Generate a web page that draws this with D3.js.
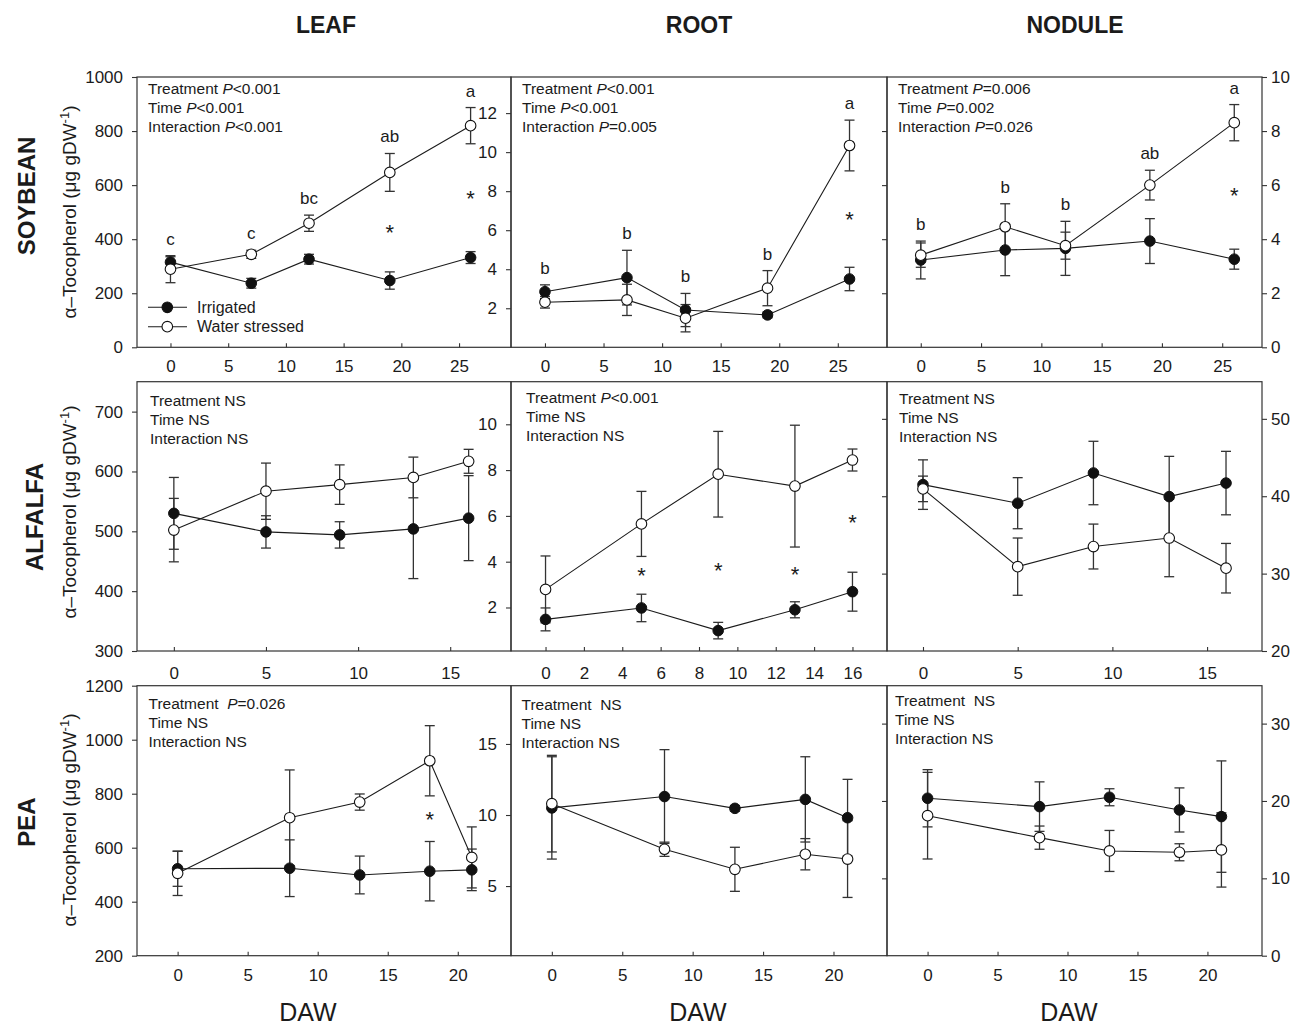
<!DOCTYPE html>
<html>
<head>
<meta charset="utf-8">
<script src="https://cdn.jsdelivr.net/npm/d3@7"></script>
<style>
  body { margin: 0; background: #fff; }
  svg text { font-family: "Liberation Sans", Arial, Helvetica, sans-serif; fill: #1b1b1b; white-space: pre; }
</style>
</head>
<body>
<svg id="chart" width="1301" height="1030"></svg>
<script>
// ---- Sampling days (days after withholding water) ----
const soyDays = [0, 7, 12, 19, 26];
const alfDays = [0, 5, 9, 13, 16];
const peaDays = [0, 8, 13, 18, 21];

// ---- Soybean ----
const soyLeafIrr = [315, 237, 326, 247, 332];
const soyLeafIrrErr = [20, 18, 18, 32, 22];
const soyLeafWs = [289, 344, 459, 647, 820];
const soyLeafWsErr = [50, 15, 30, 70, 67];

const soyRootIrr = [2.85, 3.57, 1.91, 1.66, 3.5];
const soyRootIrrErr = [0.35, 1.4, 0.85, 0.15, 0.6];
const soyRootWs = [2.31, 2.43, 1.49, 3.03, 10.34];
const soyRootWsErr = [0.3, 0.8, 0.7, 0.9, 1.3];

const soyNodIrr = [3.23, 3.6, 3.66, 3.93, 3.26];
const soyNodIrrErr = [0.7, 0.95, 1.0, 0.83, 0.37];
const soyNodWs = [3.41, 4.46, 3.76, 6.0, 8.31];
const soyNodWsErr = [0.45, 0.85, 0.5, 0.55, 0.67];

// ---- Alfalfa ----
const alfLeafIrr = [530, 499, 494, 504, 522];
const alfLeafIrrErr = [60, 27, 22, 83, 71];
const alfLeafWs = [502, 567, 578, 590, 617];
const alfLeafWsErr = [53, 47, 33, 34, 20];

const alfRootIrr = [1.48, 1.98, 0.99, 1.9, 2.69];
const alfRootIrrErr = [0.5, 0.6, 0.36, 0.35, 0.85];
const alfRootWs = [2.79, 5.65, 7.82, 7.3, 8.44];
const alfRootWsErr = [1.46, 1.42, 1.87, 2.66, 0.48];

const alfNodIrr = [41.5, 39.1, 43.0, 39.95, 41.7];
const alfNodIrrErr = [3.2, 3.3, 4.1, 5.2, 4.1];
const alfNodWs = [40.95, 30.9, 33.5, 34.6, 30.7];
const alfNodWsErr = [1.65, 3.7, 2.9, 5.0, 3.2];

// ---- Pea ----
const peaLeafIrr = [522, 524, 499, 513, 518];
const peaLeafIrrErr = [65, 105, 70, 110, 77];
const peaLeafWs = [505, 711, 769, 922, 564];
const peaLeafWsErr = [82, 177, 30, 130, 113];

const peaRootIrr = [10.5, 11.3, 10.47, 11.1, 9.81];
const peaRootIrrErr = [3.6, 3.3, 0.2, 3.0, 2.7];
const peaRootWs = [10.8, 7.59, 6.18, 7.24, 6.9];
const peaRootWsErr = [3.4, 0.5, 1.55, 1.1, 2.7];

const peaNodIrr = [20.35, 19.27, 20.48, 18.84, 17.98];
const peaNodIrrErr = [3.7, 3.2, 1.1, 2.85, 7.2];
const peaNodWs = [18.1, 15.26, 13.54, 13.37, 13.67];
const peaNodWsErr = [5.6, 1.5, 2.65, 1.1, 4.8];

// ---- Significance letters (water stressed) and asterisks ----
const soyLeafLetters = ["c", "c", "bc", "ab", "a"];
const soyRootLetters = ["b", "b", "b", "b", "a"];
const soyNodLetters = ["b", "b", "b", "ab", "a"];
const soyLeafStars = [19, 26];
const soyRootStars = [26];
const soyNodStars = [26];
const alfRootStars = [5, 9, 13, 16];
const peaLeafStars = [18];

// ---- ANOVA summaries ({P} is set in italics) ----
const soyLeafStats = ["Treatment {P}<0.001", "Time {P}<0.001", "Interaction {P}<0.001"];
const soyRootStats = ["Treatment {P}<0.001", "Time {P}<0.001", "Interaction {P}=0.005"];
const soyNodStats = ["Treatment {P}=0.006", "Time {P}=0.002", "Interaction {P}=0.026"];
const alfLeafStats = ["Treatment NS", "Time NS", "Interaction NS"];
const alfRootStats = ["Treatment {P}<0.001", "Time NS", "Interaction NS"];
const alfNodStats = ["Treatment NS", "Time NS", "Interaction NS"];
const peaLeafStats = ["Treatment  {P}=0.026", "Time NS", "Interaction NS"];
const peaRootStats = ["Treatment  NS", "Time NS", "Interaction NS"];
const peaNodStats = ["Treatment  NS", "Time NS", "Interaction NS"];

// ---- Tick values ----
const soyTicksX = [0, 5, 10, 15, 20, 25];
const alfTicksX = [0, 5, 10, 15];
const alfRootTicksX = [0, 2, 4, 6, 8, 10, 12, 14, 16];
const peaTicksX = [0, 5, 10, 15, 20];
const soyLeafTicksY = [0, 200, 400, 600, 800, 1000];
const soyRootTicksY = [2, 4, 6, 8, 10, 12];
const soyNodTicksY = [0, 2, 4, 6, 8, 10];
const alfLeafTicksY = [300, 400, 500, 600, 700];
const alfRootTicksY = [2, 4, 6, 8, 10];
const alfNodTicksY = [20, 30, 40, 50];
const peaLeafTicksY = [200, 400, 600, 800, 1000, 1200];
const peaRootTicksY = [5, 10, 15];
const peaNodTicksY = [0, 10, 20, 30];

const organNames = ["LEAF", "ROOT", "NODULE"];
const cropNames = ["SOYBEAN", "ALFALFA", "PEA"];
const seriesNames = ["Irrigated", "Water stressed"];

// ---- Layout ----
const svg = d3.select("#chart");
const colEdges = [137, 511, 887, 1262];
const rowBands = [[77, 347.3], [381.7, 651], [685.7, 955.7]];
const xLabelPad = [13, 15.5, 13.5];
const ink = "#1b1b1b", axisInk = "#333";

const panels = [
  { r: 0, c: 0, days: soyDays, irr: soyLeafIrr, irrErr: soyLeafIrrErr, ws: soyLeafWs, wsErr: soyLeafWsErr,
    letters: soyLeafLetters, stars: soyLeafStars, stats: soyLeafStats, xTicks: soyTicksX, yTicks: soyLeafTicksY,
    xDom: [-2.9, 29.5], yDom: [0, 1000], statAt: [11, 17] },
  { r: 0, c: 1, days: soyDays, irr: soyRootIrr, irrErr: soyRootIrrErr, ws: soyRootWs, wsErr: soyRootWsErr,
    letters: soyRootLetters, stars: soyRootStars, stats: soyRootStats, xTicks: soyTicksX, yTicks: soyRootTicksY,
    xDom: [-2.9, 29.2], yDom: [0, 13.85], statAt: [11, 17] },
  { r: 0, c: 2, days: soyDays, irr: soyNodIrr, irrErr: soyNodIrrErr, ws: soyNodWs, wsErr: soyNodWsErr,
    letters: soyNodLetters, stars: soyNodStars, stats: soyNodStats, xTicks: soyTicksX, yTicks: soyNodTicksY,
    xDom: [-2.8, 28.3], yDom: [0, 10], statAt: [11, 17] },
  { r: 1, c: 0, days: alfDays, irr: alfLeafIrr, irrErr: alfLeafIrrErr, ws: alfLeafWs, wsErr: alfLeafWsErr,
    letters: null, stars: [], stats: alfLeafStats, xTicks: alfTicksX, yTicks: alfLeafTicksY,
    xDom: [-2, 18.3], yDom: [300, 750], statAt: [13, 24] },
  { r: 1, c: 1, days: alfDays, irr: alfRootIrr, irrErr: alfRootIrrErr, ws: alfRootWs, wsErr: alfRootWsErr,
    letters: null, stars: alfRootStars, stats: alfRootStats, xTicks: alfRootTicksX, yTicks: alfRootTicksY,
    xDom: [-1.8, 17.8], yDom: [0.1, 11.86], statAt: [15, 21] },
  { r: 1, c: 2, days: alfDays, irr: alfNodIrr, irrErr: alfNodIrrErr, ws: alfNodWs, wsErr: alfNodWsErr,
    letters: null, stars: [], stats: alfNodStats, xTicks: alfTicksX, yTicks: alfNodTicksY,
    xDom: [-1.9, 17.9], yDom: [20, 54.8], statAt: [12, 22] },
  { r: 2, c: 0, days: peaDays, irr: peaLeafIrr, irrErr: peaLeafIrrErr, ws: peaLeafWs, wsErr: peaLeafWsErr,
    letters: null, stars: peaLeafStars, stats: peaLeafStats, xTicks: peaTicksX, yTicks: peaLeafTicksY,
    xDom: [-2.9, 23.8], yDom: [200, 1200], statAt: [11.5, 23.5] },
  { r: 2, c: 1, days: peaDays, irr: peaRootIrr, irrErr: peaRootIrrErr, ws: peaRootWs, wsErr: peaRootWsErr,
    letters: null, stars: [], stats: peaRootStats, xTicks: peaTicksX, yTicks: peaRootTicksY,
    xDom: [-2.9, 23.8], yDom: [0.1, 19.1], statAt: [10.5, 24] },
  { r: 2, c: 2, days: peaDays, irr: peaNodIrr, irrErr: peaNodIrrErr, ws: peaNodWs, wsErr: peaNodWsErr,
    letters: null, stars: [], stats: peaNodStats, xTicks: peaTicksX, yTicks: peaNodTicksY,
    xDom: [-2.9, 23.9], yDom: [0, 34.9], statAt: [8, 20] }
];

function styleAxis(g) {
  g.select(".domain").remove();
  g.selectAll(".tick line").attr("stroke", axisInk).attr("stroke-width", 1.1);
  g.selectAll(".tick text").attr("fill", ink).style("font-size", "17px")
    .style("font-family", "'Liberation Sans', Arial, sans-serif");
}

panels.forEach(p => {
  const x0 = colEdges[p.c], x1 = colEdges[p.c + 1];
  const [y0, y1] = rowBands[p.r];
  const x = d3.scaleLinear().domain(p.xDom).range([x0, x1]);
  const y = d3.scaleLinear().domain(p.yDom).range([y1, y0]);
  const g = svg.append("g");

  // x axis: inward ticks, labels below
  g.append("g").attr("transform", `translate(0,${y1})`)
    .call(d3.axisBottom(x).tickValues(p.xTicks).tickFormat(d3.format("d"))
      .tickSizeInner(-4).tickSizeOuter(0).tickPadding(xLabelPad[p.r]))
    .call(styleAxis);

  // y axes: leaf & root on their left edge, nodule on the right edge (plus bare ticks on the left)
  if (p.c < 2) {
    g.append("g").attr("transform", `translate(${x0},0)`)
      .call(d3.axisLeft(y).tickValues(p.yTicks).tickFormat(d3.format("d"))
        .tickSizeInner(5).tickSizeOuter(0).tickPadding(9))
      .call(styleAxis);
  } else {
    g.append("g").attr("transform", `translate(${x1},0)`)
      .call(d3.axisRight(y).tickValues(p.yTicks).tickFormat(d3.format("d"))
        .tickSizeInner(5).tickSizeOuter(0).tickPadding(4))
      .call(styleAxis);
    const inner = p.yTicks.filter(v => v > p.yDom[0] && v < p.yDom[1] && y(v) > y0 + 8);
    g.append("g").attr("transform", `translate(${x0},0)`)
      .call(d3.axisLeft(y).tickValues(inner).tickFormat("")
        .tickSizeInner(5).tickSizeOuter(0))
      .call(styleAxis);
  }

  // panel frame
  g.append("rect").attr("x", x0).attr("y", y0).attr("width", x1 - x0).attr("height", y1 - y0)
    .attr("fill", "none").attr("stroke", axisInk).attr("stroke-width", 1.2);

  const rows = p.days.map((d, i) => ({ d, irr: p.irr[i], ie: p.irrErr[i], ws: p.ws[i], we: p.wsErr[i] }));
  const line = key => d3.line().x(r => x(r.d)).y(r => y(r[key]));

  g.append("path").datum(rows).attr("d", line("irr"))
    .attr("fill", "none").attr("stroke", ink).attr("stroke-width", 1.1);
  g.append("path").datum(rows).attr("d", line("ws"))
    .attr("fill", "none").attr("stroke", ink).attr("stroke-width", 1.1);

  // error bars
  const bars = [];
  rows.forEach(r => {
    bars.push({ d: r.d, v: r.irr, e: r.ie });
    bars.push({ d: r.d, v: r.ws, e: r.we });
  });
  const cap = 5;
  const eb = g.append("g").attr("stroke", axisInk).attr("stroke-width", 1.3);
  bars.forEach(b => {
    const xc = x(b.d), yt = y(b.v + b.e), yb = y(b.v - b.e);
    eb.append("line").attr("x1", xc).attr("x2", xc).attr("y1", yt).attr("y2", yb);
    eb.append("line").attr("x1", xc - cap).attr("x2", xc + cap).attr("y1", yt).attr("y2", yt);
    eb.append("line").attr("x1", xc - cap).attr("x2", xc + cap).attr("y1", yb).attr("y2", yb);
  });

  // markers: filled = irrigated, open = water stressed
  g.selectAll(".irr").data(rows).join("circle")
    .attr("cx", r => x(r.d)).attr("cy", r => y(r.irr)).attr("r", 5.3)
    .attr("fill", "#111").attr("stroke", "#111").attr("stroke-width", 1);
  g.selectAll(".ws").data(rows).join("circle")
    .attr("cx", r => x(r.d)).attr("cy", r => y(r.ws)).attr("r", 5.3)
    .attr("fill", "#fff").attr("stroke", "#111").attr("stroke-width", 1.1);

  // letters above the highest error bar
  if (p.letters) {
    rows.forEach((r, i) => {
      const top = Math.max(r.irr + r.ie, r.ws + r.we);
      g.append("text").attr("x", x(r.d)).attr("y", y(top) - 11)
        .attr("text-anchor", "middle").style("font-size", "17px").text(p.letters[i]);
    });
  }

  // asterisks between the two series
  p.stars.forEach(day => {
    const r = rows[p.days.indexOf(day)];
    const irrLow = r.irr < r.ws;
    const lowTop = irrLow ? r.irr + r.ie : r.ws + r.we;
    const upBot = irrLow ? r.ws - r.we : r.irr - r.ie;
    const mid = (y(lowTop) + y(upBot)) / 2;
    g.append("text").attr("x", x(day)).attr("y", mid + 8)
      .attr("text-anchor", "middle").style("font-size", "22px").text("*");
  });

  // ANOVA summary
  p.stats.forEach((s, i) => {
    const t = g.append("text").attr("x", x0 + p.statAt[0]).attr("y", y0 + p.statAt[1] + i * 19)
      .style("font-size", "15.5px");
    const parts = s.split("{P}");
    t.append("tspan").text(parts[0]);
    if (parts.length > 1) {
      t.append("tspan").style("font-style", "italic").text("P");
      t.append("tspan").text(parts[1]);
    }
  });
});

// legend (soybean leaf)
const legY = [307.3, 326.7];
seriesNames.forEach((name, i) => {
  svg.append("line").attr("x1", 148).attr("x2", 187).attr("y1", legY[i]).attr("y2", legY[i])
    .attr("stroke", ink).attr("stroke-width", 1.1);
  svg.append("circle").attr("cx", 167.3).attr("cy", legY[i]).attr("r", 5.3)
    .attr("fill", i === 0 ? "#111" : "#fff").attr("stroke", "#111").attr("stroke-width", 1.1);
  svg.append("text").attr("x", 197).attr("y", legY[i]).attr("dy", "0.35em")
    .style("font-size", "16px").text(name);
});

// column headers
const headX = [326, 699, 1075];
organNames.forEach((n, i) => {
  svg.append("text").attr("x", headX[i]).attr("y", 33).attr("text-anchor", "middle")
    .style("font-size", "23px").style("font-weight", "bold").text(n);
});

// row headers
const cropX = [35, 43, 35], cropY = [196, 517, 822];
cropNames.forEach((n, i) => {
  svg.append("text").attr("transform", `translate(${cropX[i]},${cropY[i]}) rotate(-90)`)
    .attr("text-anchor", "middle").style("font-size", "24px").style("font-weight", "bold").text(n);
});

// y-axis titles
const titleY = [212, 512, 820];
titleY.forEach(cy => {
  const t = svg.append("text").attr("transform", `translate(76,${cy}) rotate(-90)`)
    .attr("text-anchor", "middle").style("font-size", "19px");
  t.append("tspan").text("\u03B1\u2013Tocopherol (\u03BCg gDW");
  t.append("tspan").attr("dy", -7).style("font-size", "13px").text("-1");
  t.append("tspan").attr("dy", 7).text(")");
});

// x-axis titles
const dawX = [308, 698, 1069];
dawX.forEach(cx => {
  svg.append("text").attr("x", cx).attr("y", 1021).attr("text-anchor", "middle")
    .style("font-size", "25px").text("DAW");
});
</script>
</body>
</html>
